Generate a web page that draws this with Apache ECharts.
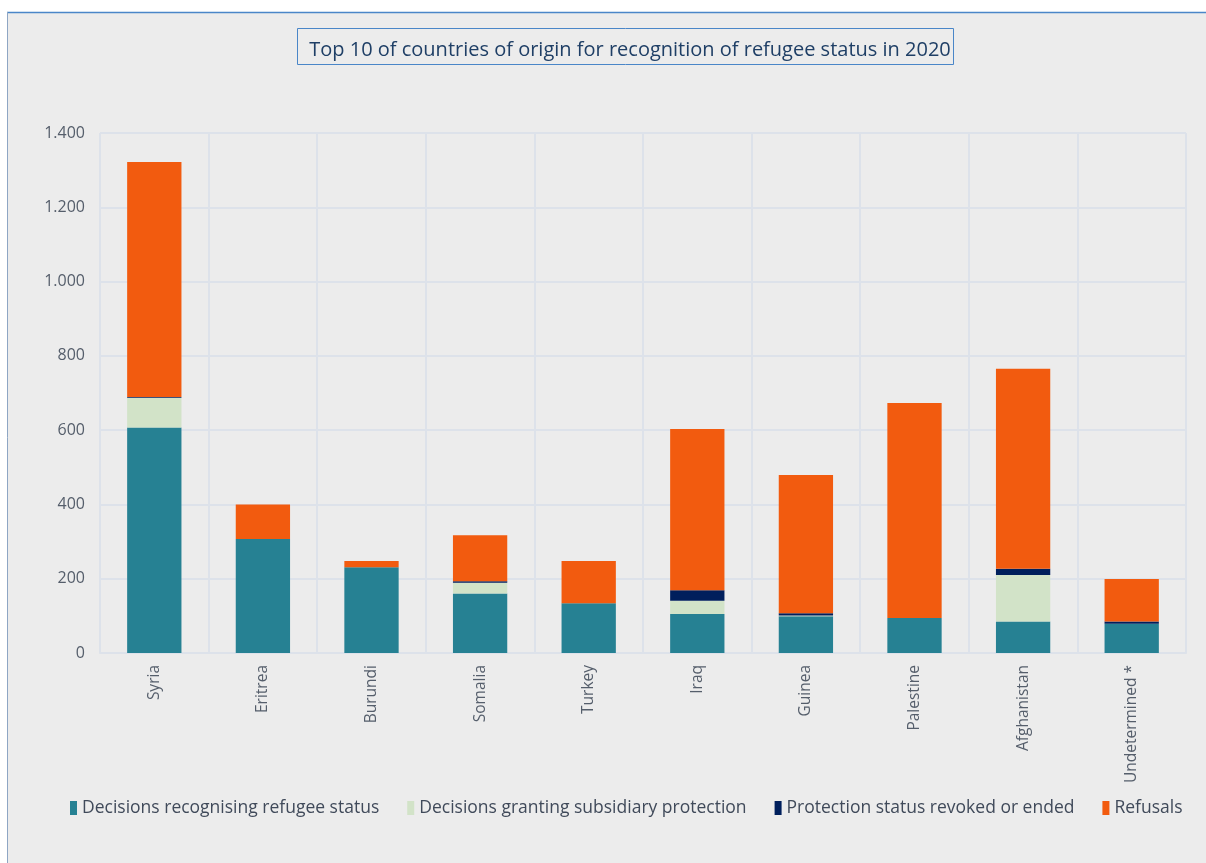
<!DOCTYPE html>
<html><head><meta charset="utf-8">
<script src="https://cdn.jsdelivr.net/npm/echarts@6/dist/echarts.min.js"></script>
<style>
html,body{margin:0;padding:0;background:#fff;}
#c{position:absolute;left:0;top:0;width:1206px;height:863px;}
</style></head><body>
<div id="c"></div>
<script>
const categories = ['Syria','Eritrea','Burundi','Somalia','Turkey','Iraq','Guinea','Palestine','Afghanistan','Undetermined *'];
const recognised = [607, 307, 231, 160, 134, 105, 99, 94, 85, 79];
const subsidiary = [80, 0, 0, 29, 0, 36, 2, 0, 125, 0];
const revoked = [2, 0, 0, 4, 0, 28, 6, 0, 17, 6];
const refusals = [633, 93, 17, 124, 114, 434, 372, 579, 538, 114];
const yTicks = [0, 200, 400, 600, 800, 1000, 1200, 1400];
const seriesNames = ['Decisions recognising refugee status','Decisions granting subsidiary protection','Protection status revoked or ended','Refusals'];
const colors = ['#268193','#d2e3c8','#001f5c','#f25b0f'];
const FONT = '"Open Sans", sans-serif';

const chart = echarts.init(document.getElementById('c'), null, {renderer:'canvas'});
const data = [recognised, subsidiary, revoked, refusals];
chart.setOption({
  animation:false,
  backgroundColor:'#ffffff',
  graphic:[
    {type:'rect', shape:{x:7,y:12,width:1199,height:851}, style:{fill:'#ececec'}, z:-10},
    {type:'line', shape:{x1:7,y1:12.5,x2:1206,y2:12.5}, style:{stroke:'#4a86c8',lineWidth:1.5}, z:-9},
    {type:'line', shape:{x1:7.5,y1:12,x2:7.5,y2:863}, style:{stroke:'#8ea6c4',lineWidth:1}, z:-9},
    {type:'rect', shape:{x:297.5,y:28.5,width:656,height:36}, style:{fill:'none',stroke:'#4a86c8',lineWidth:1}, z:5}
  ],
  title:{text:'Top 10 of countries of origin for recognition of refugee status in 2020', left:625, top:35, textAlign:'center',
    textStyle:{fontFamily:FONT, fontSize:20, fontWeight:'normal', color:'#1f3f66'}},
  legend:{bottom:41, left:65, itemWidth:7, itemHeight:14, itemGap:28, icon:'rect',
    textStyle:{fontFamily:FONT, fontSize:17.5, color:'#404a5a'}, data:seriesNames},
  grid:{left:100, right:20, top:133, bottom:210, containLabel:false},
  xAxis:{type:'category', data:categories,
    axisLine:{show:true, lineStyle:{color:'#dde2ea', width:2}}, axisTick:{show:false},
    splitLine:{show:true, lineStyle:{color:'#dde2ea', width:2}},
    axisLabel:{rotate:90, fontFamily:FONT, fontSize:15.5, color:'#555e6b', margin:12}},
  yAxis:{type:'value', min:0, max:1400, interval:200,
    axisLine:{show:false}, axisTick:{show:false},
    splitLine:{lineStyle:{color:'#dde2ea', width:2}},
    axisLabel:{fontFamily:FONT, fontSize:16, color:'#555e6b', margin:15,
      formatter:v=> yTicks.includes(v) ? v.toString().replace(/\B(?=(\d{3})+(?!\d))/g,'.') : ''}},
  series: seriesNames.map((n,i)=>({name:n, type:'bar', stack:'s', barWidth:'50%', data:data[i],
    itemStyle:{color:colors[i]}}))
});
</script></body></html>
